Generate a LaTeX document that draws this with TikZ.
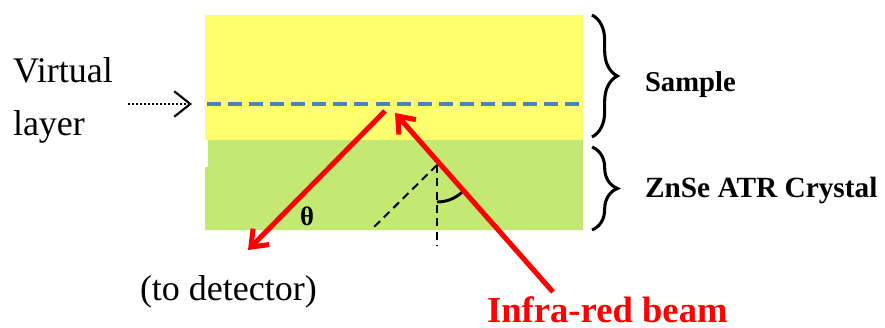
\documentclass[tikz,border=0pt]{standalone}
\usepackage{fontspec}
\setmainfont{Liberation Serif}
\usetikzlibrary{arrows.meta,decorations.pathreplacing}
\definecolor{samplecol}{RGB}{255,255,110}
\definecolor{crystcol}{RGB}{196,232,116}
\definecolor{layercol}{RGB}{79,129,189}
\begin{document}
\begin{tikzpicture}[%
    x=0.75pt,y=-0.75pt,
    every node/.style={%
      anchor=base west,inner sep=0pt,outer sep=0pt},
    beam/.style={red,line width=3.8pt,-{Straight Barb[length=11pt,width=17pt]}},
    guide/.style={line width=1.5pt,dash pattern=on 6pt off 4pt},
    brc/.style={decorate,decoration={brace,amplitude=19pt},line width=2.3pt}
    ]
    \useasboundingbox(0,0)rectangle(885,328);
    % sample and crystal
    \fill[samplecol](205,15)rectangle(583,140);
    \fill[crystcol](208,140)--(583,140)--(583,230)--(205,230)--(205,167)--(208,167)--cycle;
    % virtual layer
    \coordinate(vlW)at(207,104);
    \coordinate(vlE)at(583,104);
    \draw[layercol,line width=3.3pt,dash pattern=on 10.5pt off 5.3pt](vlW)--(vlE);
    \node(virt)at(13,83){\fontsize{27}{32}\selectfont Virtual};
    \node(lay)at(13,135){\fontsize{27}{32}\selectfont layer};
    \coordinate(ptS)at(128,104);
    \coordinate(ptE)at(192,104);
    \draw[line width=1.6pt,dash pattern=on 1.5pt off 1.5pt,
      -{Straight Barb[length=12pt,width=19pt]}](ptS)--(ptE);
    % beams
    \coordinate(hitL)at(385,111);
    \coordinate(det)at(248,250);
    \coordinate(src)at(553,292);
    \coordinate(hitR)at(395,113);
    \coordinate(bend)at(437,165);
    \coordinate(gV)at(437,246);
    \coordinate(gD)at(372,229);
    \draw[guide](bend)--(gV);
    \draw[guide](bend)--(gD);
    \draw[line width=2.2pt]([yshift=-27.75pt]bend)arc[start angle=-90,end angle=-48,radius=27.75pt];
    \draw[beam](hitL)--(det);
    \draw[beam](src)--(hitR);
    \node(th)at(300,225){\fontsize{20}{24}\selectfont\bfseries θ};
    \node(todet)at(140,300){\fontsize{27}{32}\selectfont (to detector)};
    \node[red](ir)at(487,322){\fontsize{27.5}{32}\selectfont\bfseries Infra-red beam};
    % braces
    \draw[brc](592,15)--(592,137);
    \draw[brc](592,147)--(592,230);
    \node(smp)at(645,92){\fontsize{21.5}{26}\selectfont\bfseries Sample};
    \node(znse)at(645,197){\fontsize{22}{26}\selectfont\bfseries ZnSe ATR Crystal};
  \end{tikzpicture}
\end{document}
